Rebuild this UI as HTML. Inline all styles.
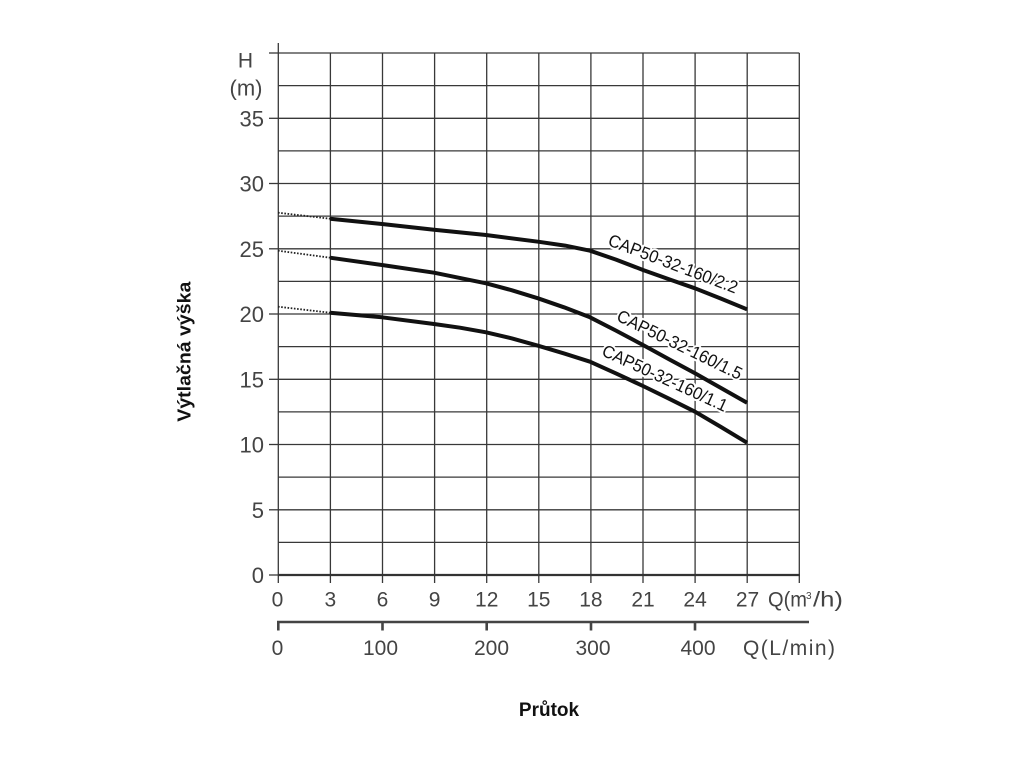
<!DOCTYPE html>
<html><head><meta charset="utf-8"><style>
html,body{margin:0;padding:0;background:#fff;}
svg{display:block;}
text{font-family:"Liberation Sans",Arial,sans-serif;}
</style></head><body>
<svg width="1024" height="768" viewBox="0 0 1024 768" xmlns="http://www.w3.org/2000/svg">
<rect width="1024" height="768" fill="#fff"/>
<g stroke="#383838" stroke-width="1.3" fill="none">
<line x1="278" y1="53" x2="799.3" y2="53"/>
<line x1="278" y1="85.6" x2="799.3" y2="85.6"/>
<line x1="278" y1="118.3" x2="799.3" y2="118.3"/>
<line x1="278" y1="150.9" x2="799.3" y2="150.9"/>
<line x1="278" y1="183.5" x2="799.3" y2="183.5"/>
<line x1="278" y1="216.1" x2="799.3" y2="216.1"/>
<line x1="278" y1="248.8" x2="799.3" y2="248.8"/>
<line x1="278" y1="281.4" x2="799.3" y2="281.4"/>
<line x1="278" y1="314" x2="799.3" y2="314"/>
<line x1="278" y1="346.6" x2="799.3" y2="346.6"/>
<line x1="278" y1="379.3" x2="799.3" y2="379.3"/>
<line x1="278" y1="411.9" x2="799.3" y2="411.9"/>
<line x1="278" y1="444.5" x2="799.3" y2="444.5"/>
<line x1="278" y1="477.1" x2="799.3" y2="477.1"/>
<line x1="278" y1="509.8" x2="799.3" y2="509.8"/>
<line x1="278" y1="542.4" x2="799.3" y2="542.4"/>
<line x1="269" y1="53" x2="278" y2="53"/>
<line x1="269" y1="118.3" x2="278" y2="118.3"/>
<line x1="269" y1="183.5" x2="278" y2="183.5"/>
<line x1="269" y1="248.8" x2="278" y2="248.8"/>
<line x1="269" y1="314" x2="278" y2="314"/>
<line x1="269" y1="379.3" x2="278" y2="379.3"/>
<line x1="269" y1="444.5" x2="278" y2="444.5"/>
<line x1="269" y1="509.8" x2="278" y2="509.8"/>
<line x1="269" y1="575" x2="278" y2="575"/>
<line x1="278.3" y1="43" x2="278.3" y2="583"/>
<line x1="330.4" y1="53" x2="330.4" y2="583"/>
<line x1="382.5" y1="53" x2="382.5" y2="583"/>
<line x1="434.6" y1="53" x2="434.6" y2="583"/>
<line x1="486.7" y1="53" x2="486.7" y2="583"/>
<line x1="538.8" y1="53" x2="538.8" y2="583"/>
<line x1="590.9" y1="53" x2="590.9" y2="583"/>
<line x1="643" y1="53" x2="643" y2="583"/>
<line x1="695.1" y1="53" x2="695.1" y2="583"/>
<line x1="747.2" y1="53" x2="747.2" y2="583"/>
<line x1="799.3" y1="53" x2="799.3" y2="583"/>
</g>
<line x1="278" y1="575" x2="800" y2="575" stroke="#333" stroke-width="2.2"/>
<g stroke="#444" stroke-width="2.6">
<line x1="277" y1="622" x2="809" y2="622"/>
<line x1="278.3" y1="621" x2="278.3" y2="630.5"/>
<line x1="382.5" y1="621" x2="382.5" y2="630.5"/>
<line x1="486.7" y1="621" x2="486.7" y2="630.5"/>
<line x1="591" y1="621" x2="591" y2="630.5"/>
<line x1="695" y1="621" x2="695" y2="630.5"/>
</g>

<g stroke="#222" stroke-width="1.8" stroke-dasharray="1.6 1.6" fill="none">
<line x1="278" y1="212.7" x2="330" y2="218.7"/>
<line x1="278" y1="250.7" x2="330" y2="257.7"/>
<line x1="278" y1="306.7" x2="330" y2="312.7"/>
</g>
<g stroke="#111" stroke-width="4" fill="none" stroke-linejoin="round" stroke-linecap="butt">
<polyline points="330,218.7 382,224 434,229.7 486,235 538,241.7 565,245.6 590,250.7 616,259.6 643,270 669,279.2 695,288.3 721,298.6 747,309.3"/>
<polyline points="330,257.7 382,265 434,272.7 486,283.3 512,290.3 538,298.3 564,307.3 590,317.3 616,330.6 643,345 669,359.2 695,373.3 721,388 747,402.7"/>
<polyline points="330,312.7 382,317.3 434,324 460,327.7 486,332.3 512,338.4 538,345.7 564,353.4 590,361.7 616,373.4 643,386 669,398.7 695,411.7 721,427 747,442.7"/>
</g>

<g font-size="17.5" fill="#111" stroke="#fff" stroke-width="4" paint-order="stroke" stroke-linejoin="round">
<text transform="translate(607,245) rotate(20.8)" textLength="137" lengthAdjust="spacingAndGlyphs">CAP50-32-160/2.2</text>
<text transform="translate(615.5,320) rotate(26)" textLength="137" lengthAdjust="spacingAndGlyphs">CAP50-32-160/1.5</text>
<text transform="translate(600.7,355) rotate(24.8)" textLength="136" lengthAdjust="spacingAndGlyphs">CAP50-32-160/1.1</text>
</g>

<g font-size="22" fill="#444" text-anchor="end">
<text x="264" y="126.3">35</text>
<text x="264" y="191.5">30</text>
<text x="264" y="256.8">25</text>
<text x="264" y="322">20</text>
<text x="264" y="387.3">15</text>
<text x="264" y="452.5">10</text>
<text x="264" y="517.8">5</text>
<text x="264" y="583">0</text>
</g>
<text x="245.5" y="67.5" font-size="21" fill="#444" text-anchor="middle">H</text>
<text x="246" y="95.6" font-size="22" fill="#444" text-anchor="middle">(m)</text>

<g font-size="21" fill="#444" text-anchor="middle">
<text x="277.5" y="606.5">0</text>
<text x="330.4" y="606.5">3</text>
<text x="382.5" y="606.5">6</text>
<text x="434.6" y="606.5">9</text>
<text x="486.7" y="606.5">12</text>
<text x="538.8" y="606.5">15</text>
<text x="590.9" y="606.5">18</text>
<text x="643" y="606.5">21</text>
<text x="695.1" y="606.5">24</text>
<text x="747.5" y="606.5">27</text>
</g>
<text x="768" y="606.5" font-size="21" fill="#444" textLength="39" lengthAdjust="spacingAndGlyphs">Q(m</text>
<text x="806" y="599" font-size="10" fill="#444">3</text>
<text x="813" y="606.5" font-size="21" fill="#444" textLength="30" lengthAdjust="spacingAndGlyphs">/h)</text>

<g font-size="21" fill="#444" text-anchor="middle">
<text x="277.5" y="655">0</text>
<text x="380.5" y="655">100</text>
<text x="491.5" y="655">200</text>
<text x="593" y="655">300</text>
<text x="698" y="655">400</text>
</g>
<text x="743" y="655" font-size="21" fill="#444" textLength="92" lengthAdjust="spacing">Q(L/min)</text>

<text transform="translate(190.5,351.7) rotate(-90)" font-size="18" font-weight="bold" fill="#111" text-anchor="middle" textLength="140" lengthAdjust="spacingAndGlyphs">Výtlačná výška</text>
<text x="549" y="716" font-size="19" font-weight="bold" fill="#111" text-anchor="middle">Průtok</text>
</svg>
</body></html>
